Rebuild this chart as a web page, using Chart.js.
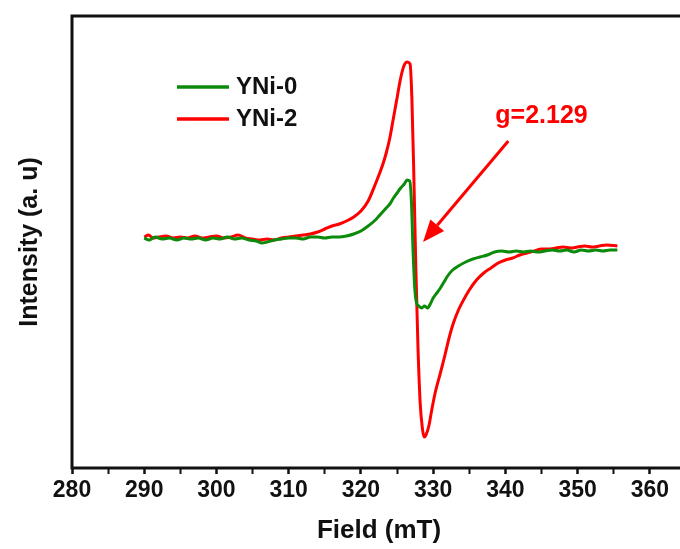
<!DOCTYPE html>
<html>
<head>
<meta charset="utf-8">
<title>EPR spectra</title>
<script src="https://cdn.jsdelivr.net/npm/chart.js@4.4.1/dist/chart.umd.min.js"></script>
<style>
  html, body { margin: 0; padding: 0; background: #fff; overflow: hidden; }
  #wrap { position: relative; width: 690px; height: 549px; }
</style>
</head>
<body>
<div id="wrap"><canvas id="epr"></canvas></div>
<script>
// YNi-0 spectrum
const fieldYNi0 = [
  290.0, 290.7, 291.5, 292.5, 293.5, 294.5, 295.5, 296.5, 297.5, 298.5,
  299.5, 300.5, 301.5, 302.5, 303.5, 304.5, 305.5, 306.3, 307.0, 308.0,
  309.0, 310.0, 311.0, 312.0, 313.0, 314.0, 315.0, 316.0, 317.0, 318.0,
  319.0, 320.0, 321.0, 322.0, 322.5, 323.0, 323.5, 324.0, 324.5, 325.0,
  325.5, 326.0, 326.4, 326.75, 327.0, 327.2, 327.45, 327.7, 328.0, 328.4,
  328.8, 329.2, 329.6, 330.0, 330.5, 331.0, 331.5, 332.0, 332.7, 333.5,
  334.5, 335.5, 336.5, 337.5, 338.5, 339.5, 340.5, 341.5, 342.5, 343.5,
  344.5, 345.5, 346.5, 347.5, 348.5, 349.5, 350.5, 351.5, 352.5, 353.5,
  354.5, 355.5
];
const intensityYNi0 = [
  230, 228, 231, 229, 230, 228, 230, 229, 230, 228,
  230, 229, 231, 229, 230, 228, 227, 225, 226, 228,
  229, 230, 230, 229, 231, 231, 230, 231, 231, 232,
  234, 237, 242, 248, 252, 256, 260, 264, 270, 275,
  280, 284, 288, 287, 265, 220, 180, 165, 162, 160,
  162, 160, 164, 170, 175, 180, 186, 192, 198, 202,
  206, 209, 211, 213, 216, 217, 216, 217, 216, 217,
  216, 217, 218, 217, 218, 216, 218, 217, 218, 217,
  218, 218
];

// YNi-2 spectrum
const fieldYNi2 = [
  290.0, 290.6, 291.2, 292.0, 293.0, 294.0, 295.0, 296.0, 297.0, 298.0,
  299.0, 300.0, 301.0, 302.0, 303.0, 304.0, 305.0, 306.0, 307.0, 308.0,
  309.0, 310.0, 311.0, 312.0, 313.0, 314.0, 315.0, 316.0, 317.0, 318.0,
  319.0, 320.0, 321.0, 322.0, 323.0, 323.5, 324.0, 324.5, 325.0, 325.5,
  326.0, 326.4, 326.8, 327.05, 327.3, 327.6, 327.9, 328.2, 328.5, 328.75,
  329.0, 329.4, 329.8, 330.3, 331.0, 331.6, 332.2, 332.8, 333.5, 334.2,
  335.0, 336.0, 337.0, 338.0, 339.0, 340.0, 341.0, 342.0, 343.0, 344.0,
  345.0, 346.0, 347.0, 348.0, 349.0, 350.0, 351.0, 352.0, 353.0, 354.0,
  355.5
];
const intensityYNi2 = [
  231, 233, 230, 231, 232, 230, 231, 230, 232, 230,
  231, 232, 230, 231, 233, 230, 229, 228, 229, 228,
  230, 231, 232, 233, 234, 236, 239, 242, 244, 247,
  251, 257, 267, 284, 303, 315, 330, 350, 370, 390,
  403, 406, 404, 370, 300, 200, 120, 65, 40, 31,
  33, 42, 58, 76, 95, 112, 130, 145, 158, 168,
  178, 188, 195, 200, 205, 208, 210, 213, 215, 217,
  219, 219, 220, 221, 220, 221, 222, 221, 222, 223,
  222
];

const seriesNames = ["YNi-0", "YNi-2"];
const seriesColors = ["#0b8a0b", "#ff0000"];

// annotation: g-value label and arrow pointing at the zero crossing
const gLabel = "g=2.129";
const gLabelAt = [338.6, 345];
const arrowFrom = [340.4, 327];
const arrowTo = [328.6, 226];

const xTitle = "Field (mT)";
const yTitle = "Intensity (a. u)";
const FONT = "'Liberation Sans', Arial, Helvetica, sans-serif";
const INK = "#111";

function toPoints(xs, ys) {
  return xs.map((x, i) => ({ x: x, y: ys[i] }));
}

const extras = {
  id: "extras",
  afterDatasetsDraw(chart) {
    const { ctx, chartArea: a, scales: { x, y } } = chart;
    ctx.save();

    // box around the plot
    ctx.strokeStyle = INK;
    ctx.lineWidth = 3;
    ctx.strokeRect(a.left, a.top, a.right - a.left, a.bottom - a.top);

    // legend
    ctx.lineWidth = 3.5;
    ctx.font = "bold 24px " + FONT;
    ctx.textBaseline = "middle";
    chart.data.datasets.forEach((ds, i) => {
      const yy = 87 + i * 32;
      ctx.strokeStyle = ds.borderColor;
      ctx.beginPath();
      ctx.moveTo(177, yy);
      ctx.lineTo(229, yy);
      ctx.stroke();
      ctx.fillStyle = INK;
      ctx.fillText(ds.label, 236, yy);
    });

    // arrow
    const x0 = x.getPixelForValue(arrowFrom[0]), y0 = y.getPixelForValue(arrowFrom[1]);
    const x1 = x.getPixelForValue(arrowTo[0]), y1 = y.getPixelForValue(arrowTo[1]);
    const ang = Math.atan2(y1 - y0, x1 - x0);
    const head = 22, half = 9;
    const bx = x1 - head * Math.cos(ang), by = y1 - head * Math.sin(ang);
    ctx.strokeStyle = "#f00";
    ctx.lineWidth = 3;
    ctx.beginPath();
    ctx.moveTo(x0, y0);
    ctx.lineTo(bx, by);
    ctx.stroke();
    ctx.fillStyle = "#f00";
    ctx.beginPath();
    ctx.moveTo(x1, y1);
    ctx.lineTo(bx + half * Math.sin(ang), by - half * Math.cos(ang));
    ctx.lineTo(bx - half * Math.sin(ang), by + half * Math.cos(ang));
    ctx.closePath();
    ctx.fill();

    ctx.font = "bold 25px " + FONT;
    ctx.textBaseline = "alphabetic";
    ctx.fillText(gLabel, x.getPixelForValue(gLabelAt[0]), y.getPixelForValue(gLabelAt[1]));

    ctx.restore();
  }
};

new Chart(document.getElementById("epr"), {
  type: "line",
  data: {
    datasets: [
      {
        label: seriesNames[0],
        data: toPoints(fieldYNi0, intensityYNi0),
        borderColor: seriesColors[0],
        borderWidth: 3
      },
      {
        label: seriesNames[1],
        data: toPoints(fieldYNi2, intensityYNi2),
        borderColor: seriesColors[1],
        borderWidth: 3
      }
    ]
  },
  options: {
    responsive: true,
    maintainAspectRatio: false,
    animation: false,
    layout: { padding: { top: 16, right: 4, left: 0, bottom: 0 } },
    elements: {
      point: { radius: 0 },
      line: { cubicInterpolationMode: "monotone" }
    },
    plugins: {
      legend: { display: false },
      tooltip: { enabled: false }
    },
    scales: {
      x: {
        type: "linear",
        min: 280,
        max: 365,
        afterFit: (s) => { s.height = 81; },
        border: { display: false },
        grid: {
          drawOnChartArea: false,
          drawTicks: true,
          tickLength: 6,
          tickColor: INK,
          tickWidth: (c) => (c.tick && c.tick.value % 10 === 0 ? 2.5 : 2)
        },
        ticks: {
          stepSize: 5,
          autoSkip: false,
          maxRotation: 0,
          padding: 3,
          color: INK,
          font: { family: FONT, size: 23, weight: "bold" },
          callback: (v) => (v % 10 === 0 ? v : "")
        },
        title: {
          display: true,
          text: xTitle,
          color: INK,
          font: { family: FONT, size: 26, weight: "bold" },
          padding: { top: 0, bottom: 3 }
        }
      },
      y: {
        min: 0,
        max: 452,
        afterFit: (s) => { s.width = 72; },
        border: { display: false },
        grid: { display: false },
        ticks: { display: false },
        title: {
          display: true,
          text: yTitle,
          color: INK,
          font: { family: FONT, size: 25, weight: "bold" },
          padding: { top: 15, bottom: 0 }
        }
      }
    }
  },
  plugins: [extras]
});
</script>
</body>
</html>
